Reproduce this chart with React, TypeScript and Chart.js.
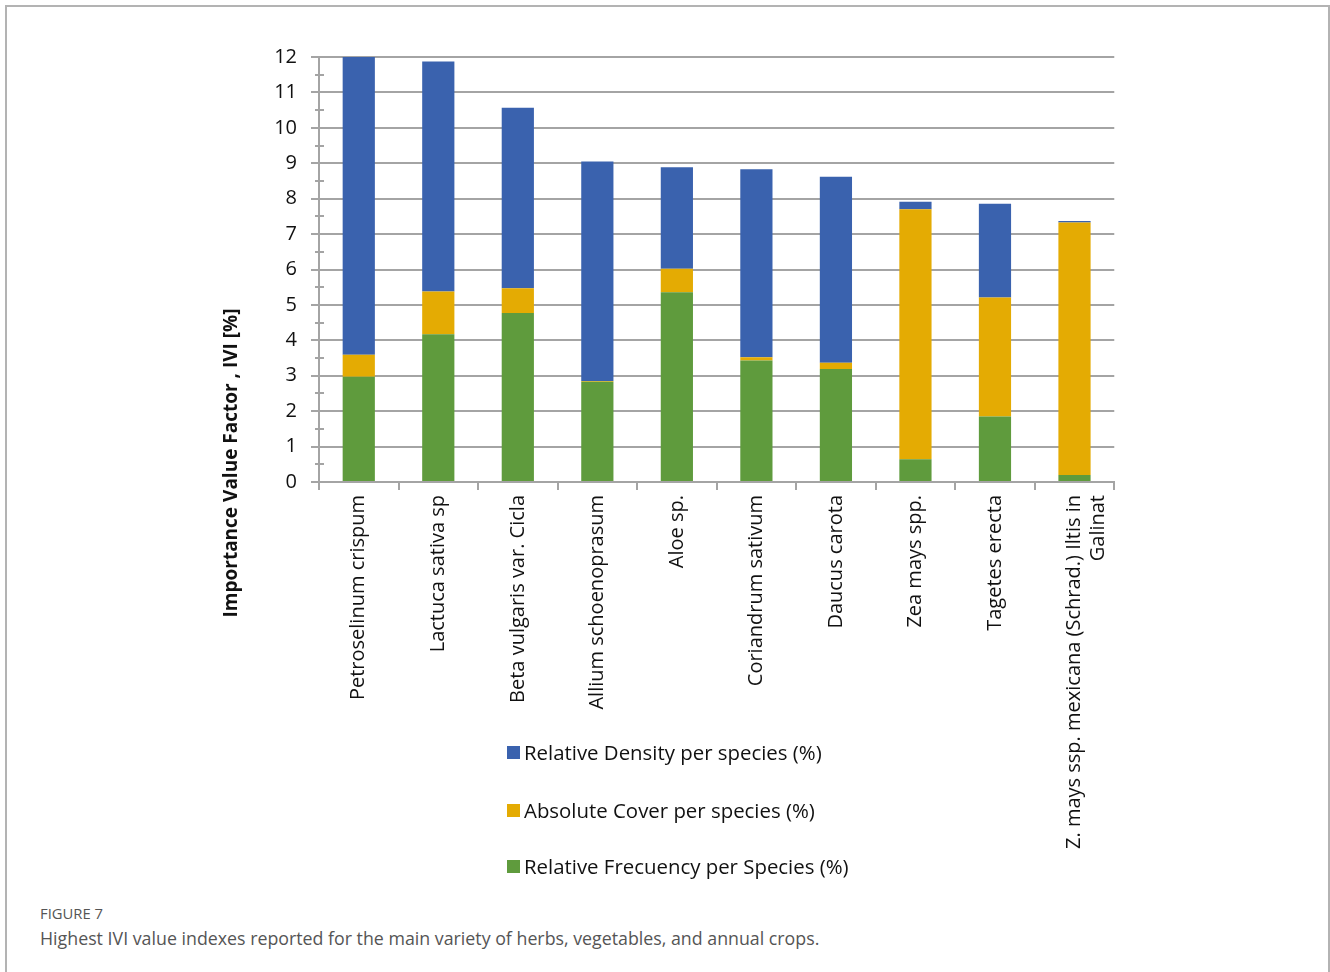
import React, { useEffect, useRef } from "react";
import { Chart, registerables } from "chart.js";

Chart.register(...registerables);

const categories: (string | string[])[] = [
  "Petroselinum crispum",
  "Lactuca sativa sp",
  "Beta vulgaris var. Cicla",
  "Allium schoenoprasum",
  "Aloe sp.",
  "Coriandrum sativum",
  "Daucus carota",
  "Zea mays spp.",
  "Tagetes erecta",
  ["Z. mays ssp. mexicana (Schrad.) Iltis in", "Galinat"],
];

const relativeFrequency = [2.97, 4.17, 4.77, 2.83, 5.36, 3.43, 3.19, 0.64, 1.85, 0.2];
const absoluteCover = [0.62, 1.21, 0.7, 0.02, 0.66, 0.09, 0.18, 7.06, 3.36, 7.13];
const relativeDensity = [8.41, 6.49, 5.1, 6.2, 2.87, 5.31, 5.25, 0.21, 2.65, 0.04];

const yTicks = [0, 1, 2, 3, 4, 5, 6, 7, 8, 9, 10, 11, 12];

const seriesNames = {
  frequency: "Relative Frecuency per Species (%)",
  cover: "Absolute Cover per species (%)",
  density: "Relative Density per species (%)",
};
const seriesColors = {
  frequency: "#5f9b3d",
  cover: "#e4ab03",
  density: "#3a62ae",
};

const yAxisTitle = "Importance Value Factor , IVI [%]";
const figureLabel = "FIGURE 7";
const figureCaption =
  "Highest IVI value indexes reported for the main variety of herbs, vegetables, and annual crops.";

const FONT = "'Open Sans', Lato, sans-serif";
const GRID = "#a4a4a4";

const CANVAS_LEFT = 200;
const CANVAS_TOP = 31;
const CANVAS_W = 928;
const CANVAS_H = 840;
const PLOT_BOTTOM = 482;
const PLOT_LEFT = 319;

const extrasPlugin = {
  id: "extras",
  afterDraw(chart: any) {
    const { ctx, chartArea } = chart;
    const y = chart.scales.y;
    ctx.save();
    ctx.strokeStyle = GRID;
    ctx.lineWidth = 2;
    for (let i = 0; i < yTicks.length - 1; i++) {
      const v = (yTicks[i] + yTicks[i + 1]) / 2;
      const py = Math.round(y.getPixelForValue(v));
      ctx.beginPath();
      ctx.moveTo(chartArea.left - 4, py);
      ctx.lineTo(chartArea.left + 5, py);
      ctx.stroke();
    }
    ctx.fillStyle = "#111";
    ctx.font = `bold 19px ${FONT}`;
    ctx.textAlign = "center";
    ctx.textBaseline = "middle";
    ctx.translate(232 - CANVAS_LEFT, 463 - CANVAS_TOP);
    ctx.rotate(-Math.PI / 2);
    ctx.fillText(yAxisTitle, 0, 0);
    ctx.restore();
  },
};

function BarChart() {
  const ref = useRef<HTMLCanvasElement | null>(null);
  useEffect(() => {
    if (!ref.current) return;
    const chart = new Chart(ref.current, {
      type: "bar",
      data: {
        labels: categories,
        datasets: [
          {
            label: seriesNames.frequency,
            data: relativeFrequency,
            backgroundColor: seriesColors.frequency,
            barPercentage: 0.405,
            categoryPercentage: 1,
          },
          {
            label: seriesNames.cover,
            data: absoluteCover,
            backgroundColor: seriesColors.cover,
            barPercentage: 0.405,
            categoryPercentage: 1,
          },
          {
            label: seriesNames.density,
            data: relativeDensity,
            backgroundColor: seriesColors.density,
            barPercentage: 0.405,
            categoryPercentage: 1,
          },
        ],
      },
      options: {
        animation: false,
        responsive: false,
        maintainAspectRatio: false,
        devicePixelRatio: 1,
        layout: { padding: { top: 8, right: 10, left: 0, bottom: 0 } },
        plugins: {
          legend: { display: false },
          tooltip: { enabled: false },
          title: { display: false },
        },
        scales: {
          x: {
            stacked: true,
            grid: {
              display: true,
              drawOnChartArea: false,
              drawTicks: true,
              tickLength: 8,
              color: GRID,
              lineWidth: 2,
            },
            border: { display: true, color: GRID, width: 2 },
            ticks: {
              autoSkip: false,
              maxRotation: 90,
              minRotation: 90,
              padding: 5,
              color: "#111",
              font: { family: FONT, size: 20 },
            },
            afterFit(scale: any) {
              scale.height = CANVAS_H - (PLOT_BOTTOM - CANVAS_TOP);
            },
          },
          y: {
            stacked: true,
            min: 0,
            max: 12,
            ticks: {
              stepSize: 1,
              padding: 14,
              color: "#111",
              font: { family: FONT, size: 20 },
            },
            grid: {
              color: GRID,
              lineWidth: 2,
              tickLength: 8,
              drawTicks: true,
            },
            border: { display: true, color: GRID, width: 2 },
            afterFit(scale: any) {
              scale.width = PLOT_LEFT - CANVAS_LEFT;
            },
          },
        },
      },
      plugins: [extrasPlugin],
    });
    return () => chart.destroy();
  }, []);
  return (
    <canvas
      ref={ref}
      width={CANVAS_W}
      height={CANVAS_H}
      style={{
        position: "absolute",
        left: CANVAS_LEFT,
        top: CANVAS_TOP,
        width: CANVAS_W,
        height: CANVAS_H,
      }}
    />
  );
}

const legendOrder: (keyof typeof seriesNames)[] = ["density", "cover", "frequency"];
const legendRowsY = [752, 810, 866];

export default function App() {
  return (
    <div
      style={{
        position: "absolute",
        left: 0,
        top: 0,
        width: 1330,
        height: 972,
        overflow: "hidden",
        background: "#fff",
      }}
    >
      <div
        style={{
          position: "absolute",
          left: 5,
          top: 5,
          width: 1325,
          height: 1000,
          boxSizing: "border-box",
          border: "2px solid #b3b3b3",
          borderBottom: "none",
        }}
      />
      <BarChart />
      {legendOrder.map((k, i) => (
        <div
          key={k}
          style={{
            position: "absolute",
            left: 507,
            top: legendRowsY[i] - 14,
            height: 28,
            display: "flex",
            alignItems: "center",
            fontFamily: FONT,
            fontSize: 20.4,
            color: "#111",
            whiteSpace: "nowrap",
          }}
        >
          <span
            style={{
              display: "inline-block",
              width: 13,
              height: 13,
              background: seriesColors[k],
              marginRight: 4,
            }}
          />
          {seriesNames[k]}
        </div>
      ))}
      <div
        style={{
          position: "absolute",
          left: 40,
          top: 903,
          fontFamily: "'Open Sans', sans-serif",
          fontSize: 14.8,
          color: "#555",
          lineHeight: "20px",
        }}
      >
        {figureLabel}
      </div>
      <div
        style={{
          position: "absolute",
          left: 40,
          top: 926,
          fontFamily: "'Open Sans', sans-serif",
          fontSize: 17.8,
          color: "#555",
          lineHeight: "24px",
          whiteSpace: "nowrap",
        }}
      >
        {figureCaption}
      </div>
    </div>
  );
}
